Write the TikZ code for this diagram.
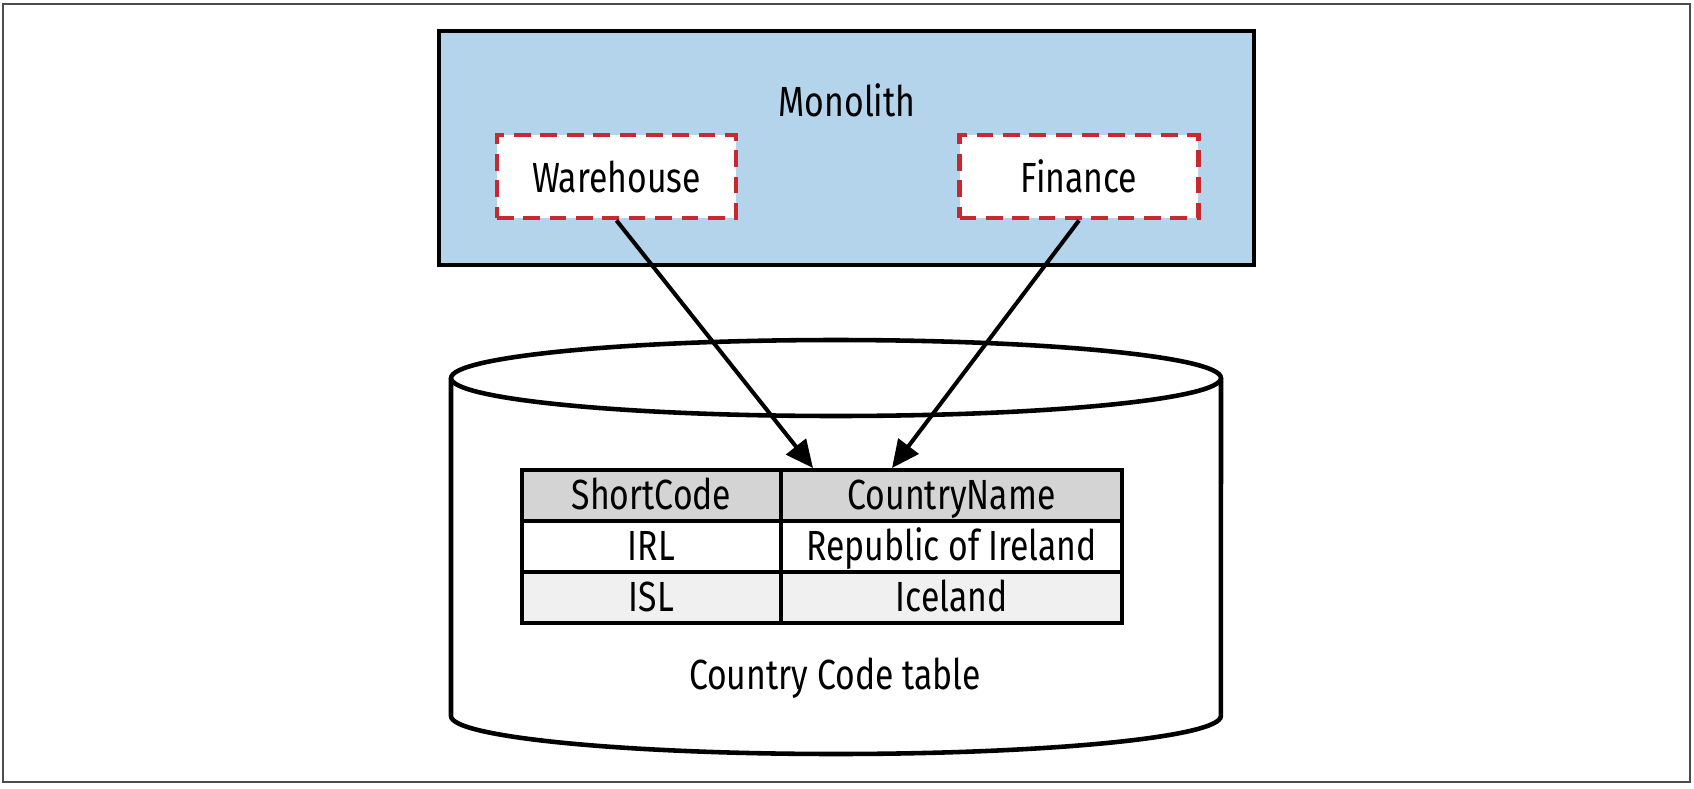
\documentclass[tikz,border=0pt]{standalone}
\usepackage{fontspec}
\setmainfont{Fira Sans}[FakeStretch=0.8]
\usepackage{tikz}
\usetikzlibrary{arrows.meta}

\definecolor{monoblue}{HTML}{B3D4EA}
\definecolor{dashred}{HTML}{C8282F}
\definecolor{headgray}{HTML}{D4D4D4}
\definecolor{rowgray}{HTML}{F0F0F0}

\tikzset{
    module/.style={draw=dashred, fill=white, line width=2.8pt, dash pattern=on 9.5pt off 5.5pt, minimum width=4.78cm, minimum height=1.66cm},
    cell/.style={draw, line width=2.4pt, minimum height=1.02cm, inner sep=0pt, text height=18pt, text depth=2pt},
    link/.style={-{Triangle[length=0.55cm, width=0.5cm]}, line width=2.3pt},
    lbl/.style={font=\fontsize{24}{28}\selectfont},
}

\begin{document}
\begin{tikzpicture}[x=0.02cm, y=-0.02cm]
    \useasboundingbox (0,0) rectangle (1694,788);
    \draw[black!70, line width=0.9pt] (3,4) rectangle (1690,782);
    % monolith
    \node[draw, fill=monoblue, line width=2.6pt, minimum width=16.3cm, minimum height=4.68cm] (mono) at (846.5,148) {};
    \node[lbl] (monolbl) at (847,100) {Monolith};
    \node[module, lbl] (wh) at (616.5,176.5) {Warehouse};
    \node[module, lbl] (fin) at (1079,176.5) {Finance};
    % database
    \draw[fill=white, line width=2.6pt] (451,378) -- (451,716) arc[start angle=180, end angle=360, x radius=7.7cm, y radius=0.76cm] -- (1221,378);
    \draw[fill=white, line width=2.6pt] (836,378) ellipse [x radius=7.7cm, y radius=0.76cm];
    \node[lbl] (dblbl) at (835,678) {Country Code table};
    % table
    \node[cell, lbl, fill=headgray, minimum width=5.18cm] (h1) at (651.5,495.5) {ShortCode};
    \node[cell, lbl, fill=headgray, minimum width=6.82cm] (h2) at (951.5,495.5) {CountryName};
    \node[cell, lbl, fill=white, minimum width=5.18cm] (a1) at (651.5,546.5) {IRL};
    \node[cell, lbl, fill=white, minimum width=6.82cm] (a2) at (951.5,546.5) {Republic of Ireland};
    \node[cell, lbl, fill=rowgray, minimum width=5.18cm] (b1) at (651.5,597.5) {ISL};
    \node[cell, lbl, fill=rowgray, minimum width=6.82cm] (b2) at (951.5,597.5) {Iceland};
    % links
    \coordinate (whend) at (813,468);
    \coordinate (finend) at (892,468);
    \draw[link] (wh.south) -- (whend);
    \draw[link] (fin.south) -- (finend);
\end{tikzpicture}
\end{document}
